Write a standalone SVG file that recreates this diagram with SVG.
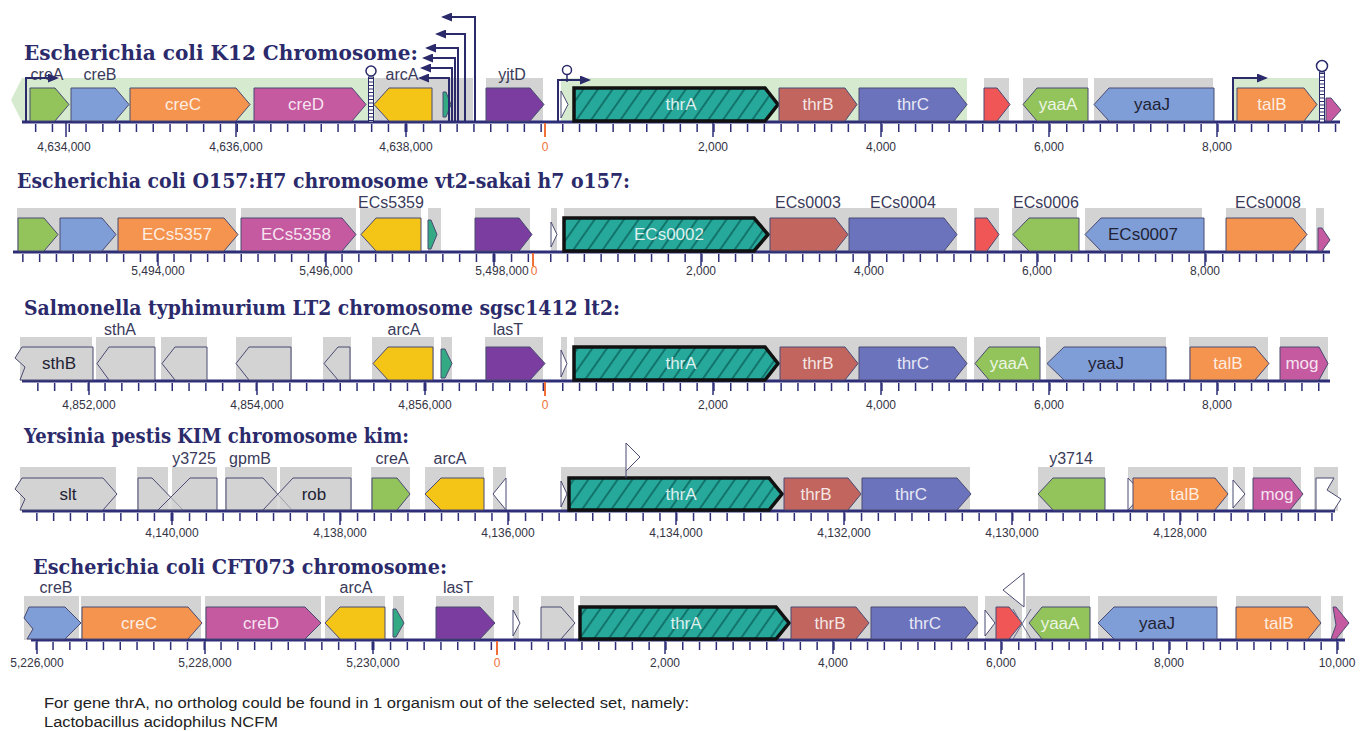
<svg xmlns="http://www.w3.org/2000/svg" width="1368" height="731" viewBox="0 0 1368 731">
<defs>
<style>
.bg{fill:#d3d3d3}
.pg{fill:#d5eacf}
.g{stroke:#4a4a72;stroke-width:1}
.gr{fill:#d3d3d3}
.wt{fill:#ffffff}
.gn{fill:#93c45c}
.bl{fill:#7f9ed8}
.or{fill:#f5944f}
.mg{fill:#c65aa1}
.yl{fill:#f4c516}
.tl{fill:#33a984}
.pu{fill:#7b3d9f}
.tb{fill:#c1655e}
.tc{fill:#6c73bd}
.rd{fill:#f05656}
.ta{fill:url(#hatch);stroke:#111;stroke-width:3.5}
.ax{stroke:#2e2e78;stroke-width:3}
.tk{stroke:#2e2e78;stroke-width:8;stroke-dasharray:1.5 15.3}
.mj{stroke:#2e2e78;stroke-width:1.5}
.z{stroke:#f07038;stroke-width:2}
.ttl{font-family:"DejaVu Serif","Liberation Serif",serif;font-weight:bold;font-size:20px;fill:#2b2a6b}
.lb{font-family:"Liberation Sans",Arial,sans-serif;font-size:16px;fill:#3a3a5a;text-anchor:middle}
.in{font-family:"Liberation Sans",Arial,sans-serif;font-size:17px;fill:#ffffff;fill-opacity:0.85;text-anchor:middle}
.dk{fill:#222233;fill-opacity:1}
.num{font-family:"Liberation Sans",Arial,sans-serif;font-size:12px;fill:#333344;text-anchor:middle}
.zn{fill:#f07038}
.pr{fill:none;stroke:#2b2a6b;stroke-width:2}
.ft{font-family:"Liberation Sans",Arial,sans-serif;font-size:14px;fill:#222}
</style>
<pattern id="hatch" width="12" height="12" patternUnits="userSpaceOnUse" patternTransform="rotate(35)">
<rect width="12" height="12" fill="#26a89b"/>
<line x1="1" y1="0" x2="1" y2="12" stroke="#0f6e66" stroke-width="1.8"/>
</pattern>
<marker id="ah" markerWidth="11" markerHeight="9" refX="9" refY="4.5" orient="auto" markerUnits="userSpaceOnUse">
<path d="M0,0 L11,4.5 L0,9 z" fill="#2b2a6b"/>
</marker>
</defs>
<rect width="1368" height="731" fill="#ffffff"/>

<!-- ============ TRACK 1 : E. coli K12 ============ -->
<g id="track1">
<text class="ttl" x="24" y="60" textLength="394" lengthAdjust="spacingAndGlyphs">Escherichia coli K12 Chromosome:</text>
<g id="t1-bg">
<polygon class="pg" points="11,100 22,78 375,78 375,122 22,122"/>
<rect class="bg" x="375" y="78" width="98" height="44"/>
<rect class="bg" x="486" y="78" width="57" height="44"/>
<rect class="pg" x="561" y="78" width="406" height="44"/>
<rect class="bg" x="984" y="78" width="25" height="44"/>
<rect class="bg" x="1023" y="78" width="65" height="44"/>
<rect class="bg" x="1094" y="78" width="119" height="44"/>
<rect class="pg" x="1233" y="78" width="92" height="44"/>
</g>
<g id="t1-axis">
<line class="ax" x1="22" y1="122" x2="1340" y2="122"/>
<line class="tk" x1="406" y1="128" x2="22" y2="128"/>
<line class="tk" x1="406" y1="128" x2="544" y2="128"/>
<line class="tk" x1="562" y1="128" x2="1340" y2="128"/>
<path class="mj" d="M66,122V137M236,122V137M406,122V137M713,122V137M881,122V137M1049,122V137M1217,122V137"/>
<line class="z" x1="545" y1="123" x2="545" y2="137"/>
<text class="num" x="64" y="151">4,634,000</text>
<text class="num" x="236" y="151">4,636,000</text>
<text class="num" x="406" y="151">4,638,000</text>
<text class="num zn" x="545" y="151">0</text>
<text class="num" x="713" y="151">2,000</text>
<text class="num" x="881" y="151">4,000</text>
<text class="num" x="1049" y="151">6,000</text>
<text class="num" x="1217" y="151">8,000</text>
</g>
<g id="t1-creA"><polygon class="g gn" points="30,88 55,88 69,104.5 55,121 30,121"/><text class="lb" x="47" y="80">creA</text></g>
<g id="t1-creB"><polygon class="g bl" points="71,88 115,88 129,104.5 115,121 71,121"/><text class="lb" x="100" y="80">creB</text></g>
<g id="t1-creC"><polygon class="g or" points="130,88 236,88 250,104.5 236,121 130,121"/><text class="in" x="183" y="110">creC</text></g>
<g id="t1-creD"><polygon class="g mg" points="254,88 352,88 366,104.5 352,121 254,121"/><text class="in" x="306" y="110">creD</text></g>
<g id="t1-arcA"><polygon class="g yl" points="374,104.5 389,88 432,88 432,121 389,121"/><text class="lb" x="402" y="80">arcA</text></g>
<g id="t1-small1"><polygon class="g tl" points="443,92 446,92 451,104.5 446,117 443,117"/></g>
<g id="t1-yjtD"><polygon class="g pu" points="486,88 530,88 544,104.5 530,121 486,121"/><text class="lb" x="512" y="80">yjtD</text></g>
<g id="t1-small2"><polygon class="g wt" points="561,91 568,104.5 561,118"/></g>
<g id="t1-thrA"><polygon class="ta" points="574,88 765,88 778,104.5 765,121 574,121"/><text class="in" x="681" y="110">thrA</text></g>
<g id="t1-thrB"><polygon class="g tb" points="779,88 845,88 857,104.5 845,121 779,121"/><text class="in" x="818" y="110">thrB</text></g>
<g id="t1-thrC"><polygon class="g tc" points="859,88 954,88 967,104.5 954,121 859,121"/><text class="in" x="913" y="110">thrC</text></g>
<g id="t1-red"><polygon class="g rd" points="984,88 997,88 1010,104.5 997,121 984,121"/></g>
<g id="t1-yaaA"><polygon class="g gn" points="1023,104.5 1037,88 1088,88 1088,121 1037,121"/><text class="in" x="1058" y="110">yaaA</text></g>
<g id="t1-yaaJ"><polygon class="g bl" points="1094,104.5 1109,88 1214,88 1214,121 1109,121"/><text class="in dk" x="1152" y="110">yaaJ</text></g>
<g id="t1-talB"><polygon class="g or" points="1237,88 1304,88 1317,104.5 1304,121 1237,121"/><text class="in" x="1272" y="110">talB</text></g>
<g id="t1-end"><polygon class="g mg" points="1326,98 1331,98 1341,110 1331,121 1326,121"/></g>
</g>

<!-- ============ TRACK 2 : E. coli O157:H7 ============ -->
<g id="track2">
<text class="ttl" x="17" y="188" textLength="613" lengthAdjust="spacingAndGlyphs">Escherichia coli O157:H7 chromosome vt2-sakai h7 o157:</text>
<g id="t2-bg">
<rect class="bg" x="17" y="208" width="219" height="44"/>
<rect class="bg" x="241" y="208" width="115" height="44"/>
<rect class="bg" x="360" y="208" width="61" height="44"/>
<rect class="bg" x="428" y="208" width="13" height="44"/>
<rect class="bg" x="475" y="208" width="55" height="44"/>
<rect class="bg" x="551" y="208" width="6" height="44"/>
<rect class="bg" x="564" y="208" width="393" height="44"/>
<rect class="bg" x="974" y="208" width="25" height="44"/>
<rect class="bg" x="1012" y="208" width="65" height="44"/>
<rect class="bg" x="1085" y="208" width="117" height="44"/>
<rect class="bg" x="1226" y="208" width="80" height="44"/>
<rect class="bg" x="1316" y="208" width="8" height="44"/>
</g>
<g id="t2-axis">
<line class="ax" x1="13" y1="252" x2="1330" y2="252"/>
<line class="tk" x1="494" y1="258" x2="13" y2="258"/>
<line class="tk" x1="494" y1="258" x2="532" y2="258"/>
<line class="tk" x1="550" y1="258" x2="1330" y2="258"/>
<path class="mj" d="M158,252V266M326,252V266M494,252V266M701,252V266M869,252V266M1037,252V266M1205,252V266"/>
<line class="z" x1="533" y1="253" x2="533" y2="266"/>
<text class="num" x="158" y="275">5,494,000</text>
<text class="num" x="326" y="275">5,496,000</text>
<text class="num" x="502" y="275">5,498,000</text>
<text class="num zn" x="534" y="275">0</text>
<text class="num" x="701" y="275">2,000</text>
<text class="num" x="869" y="275">4,000</text>
<text class="num" x="1037" y="275">6,000</text>
<text class="num" x="1205" y="275">8,000</text>
</g>
<g id="t2-g1"><polygon class="g gn" points="18,218 44,218 58,234.5 44,251 18,251"/></g>
<g id="t2-g2"><polygon class="g bl" points="60,218 102,218 116,234.5 102,251 60,251"/></g>
<g id="t2-ECs5357"><polygon class="g or" points="118,218 224,218 238,234.5 224,251 118,251"/><text class="in" x="177" y="240">ECs5357</text></g>
<g id="t2-ECs5358"><polygon class="g mg" points="241,218 342,218 356,234.5 342,251 241,251"/><text class="in" x="296" y="240">ECs5358</text></g>
<g id="t2-ECs5359"><polygon class="g yl" points="361,234.5 376,218 421,218 421,251 376,251"/><text class="lb" x="391" y="208">ECs5359</text></g>
<g id="t2-small1"><polygon class="g tl" points="428,220 431,220 437,234.5 431,249 428,249"/></g>
<g id="t2-g3"><polygon class="g pu" points="475,218 519,218 532,234.5 519,251 475,251"/></g>
<g id="t2-small2"><polygon class="g wt" points="551,222 557,234.5 551,247"/></g>
<g id="t2-ECs0002"><polygon class="ta" points="564,218 754,218 768,234.5 754,251 564,251"/><text class="in" x="669" y="240">ECs0002</text></g>
<g id="t2-ECs0003"><polygon class="g tb" points="770,218 835,218 848,234.5 835,251 770,251"/><text class="lb" x="808" y="208">ECs0003</text></g>
<g id="t2-ECs0004"><polygon class="g tc" points="849,218 944,218 957,234.5 944,251 849,251"/><text class="lb" x="903" y="208">ECs0004</text></g>
<g id="t2-red"><polygon class="g rd" points="975,218 987,218 999,234.5 987,251 975,251"/></g>
<g id="t2-ECs0006"><polygon class="g gn" points="1013,234.5 1029,218 1079,218 1079,251 1029,251"/><text class="lb" x="1046" y="208">ECs0006</text></g>
<g id="t2-ECs0007"><polygon class="g bl" points="1085,234.5 1101,218 1204,218 1204,251 1101,251"/><text class="in dk" x="1143" y="240">ECs0007</text></g>
<g id="t2-ECs0008"><polygon class="g or" points="1226,218 1293,218 1307,234.5 1293,251 1226,251"/><text class="lb" x="1268" y="208">ECs0008</text></g>
<g id="t2-end"><polygon class="g mg" points="1318,228 1322,228 1330,240 1322,251 1318,251"/></g>
</g>

<!-- ============ TRACK 3 : Salmonella ============ -->
<g id="track3">
<text class="ttl" x="24" y="315" textLength="596" lengthAdjust="spacingAndGlyphs">Salmonella typhimurium LT2 chromosome sgsc1412 lt2:</text>
<g id="t3-bg">
<rect class="bg" x="20" y="337" width="72" height="44"/>
<rect class="bg" x="96" y="337" width="59" height="44"/>
<rect class="bg" x="161" y="337" width="46" height="44"/>
<rect class="bg" x="236" y="337" width="56" height="44"/>
<rect class="bg" x="323" y="337" width="28" height="44"/>
<rect class="bg" x="372" y="337" width="62" height="44"/>
<rect class="bg" x="441" y="337" width="11" height="44"/>
<rect class="bg" x="485" y="337" width="58" height="44"/>
<rect class="bg" x="561" y="337" width="6" height="44"/>
<rect class="bg" x="574" y="337" width="393" height="44"/>
<rect class="bg" x="974" y="337" width="66" height="44"/>
<rect class="bg" x="1046" y="337" width="120" height="44"/>
<rect class="bg" x="1189" y="337" width="79" height="44"/>
<rect class="bg" x="1280" y="337" width="48" height="44"/>
</g>
<g id="t3-axis">
<line class="ax" x1="22" y1="381" x2="1330" y2="381"/>
<line class="tk" x1="425" y1="387" x2="22" y2="387"/>
<line class="tk" x1="425" y1="387" x2="544" y2="387"/>
<line class="tk" x1="562" y1="387" x2="1330" y2="387"/>
<path class="mj" d="M89,381V395M257,381V395M425,381V395M713,381V395M881,381V395M1049,381V395M1217,381V395"/>
<line class="z" x1="545" y1="382" x2="545" y2="396"/>
<text class="num" x="89" y="409">4,852,000</text>
<text class="num" x="257" y="409">4,854,000</text>
<text class="num" x="425" y="409">4,856,000</text>
<text class="num zn" x="545" y="409">0</text>
<text class="num" x="713" y="409">2,000</text>
<text class="num" x="881" y="409">4,000</text>
<text class="num" x="1049" y="409">6,000</text>
<text class="num" x="1217" y="409">8,000</text>
</g>
<g id="t3-sthB"><polygon class="g gr" points="93,347 22,347 15,358 25,367 20,380 93,380"/><text class="in dk" x="59" y="369">sthB</text></g>
<g id="t3-sthA"><polygon class="g gr" points="97,363.5 109,347 155,347 155,380 109,380"/><text class="lb" x="120" y="335">sthA</text></g>
<g id="t3-g3"><polygon class="g gr" points="162,363.5 175,347 207,347 207,380 175,380"/></g>
<g id="t3-g4"><polygon class="g gr" points="236,363.5 249,347 291,347 291,380 249,380"/></g>
<g id="t3-g5"><polygon class="g gr" points="324,363.5 338,347 350,347 350,380 338,380"/></g>
<g id="t3-arcA"><polygon class="g yl" points="373,363.5 388,347 433,347 433,380 388,380"/><text class="lb" x="404" y="335">arcA</text></g>
<g id="t3-small1"><polygon class="g tl" points="441,349 445,349 452,363.5 445,378 441,378"/></g>
<g id="t3-lasT"><polygon class="g pu" points="486,347 530,347 545,363.5 530,380 486,380"/><text class="lb" x="508" y="335">lasT</text></g>
<g id="t3-small2"><polygon class="g wt" points="561,350 567,363.5 561,377"/></g>
<g id="t3-thrA"><polygon class="ta" points="574,347 765,347 778,363.5 765,380 574,380"/><text class="in" x="681" y="369">thrA</text></g>
<g id="t3-thrB"><polygon class="g tb" points="780,347 845,347 858,363.5 845,380 780,380"/><text class="in" x="818" y="369">thrB</text></g>
<g id="t3-thrC"><polygon class="g tc" points="859,347 954,347 967,363.5 954,380 859,380"/><text class="in" x="913" y="369">thrC</text></g>
<g id="t3-yaaA"><polygon class="g gn" points="975,363.5 989,347 1040,347 1040,380 989,380"/><text class="in" x="1009" y="369">yaaA</text></g>
<g id="t3-yaaJ"><polygon class="g bl" points="1047,363.5 1064,347 1166,347 1166,380 1064,380"/><text class="in dk" x="1106" y="369">yaaJ</text></g>
<g id="t3-talB"><polygon class="g or" points="1190,347 1255,347 1269,363.5 1255,380 1190,380"/><text class="in" x="1228" y="369">talB</text></g>
<g id="t3-mog"><polygon class="g mg" points="1280,347 1319,347 1328,363.5 1319,380 1280,380"/><text class="in" x="1302" y="369">mog</text></g>
</g>

<!-- ============ TRACK 4 : Yersinia pestis ============ -->
<g id="track4">
<text class="ttl" x="24" y="443" textLength="385" lengthAdjust="spacingAndGlyphs">Yersinia pestis KIM chromosome kim:</text>
<g id="t4-bg">
<rect class="bg" x="20" y="467" width="96" height="44"/>
<rect class="bg" x="137" y="467" width="31" height="44"/>
<rect class="bg" x="172" y="467" width="45" height="44"/>
<rect class="bg" x="225" y="467" width="52" height="44"/>
<rect class="bg" x="280" y="467" width="72" height="44"/>
<rect class="bg" x="371" y="467" width="39" height="44"/>
<rect class="bg" x="425" y="467" width="59" height="44"/>
<rect class="bg" x="493" y="467" width="13" height="44"/>
<rect class="bg" x="561" y="467" width="409" height="44"/>
<rect class="bg" x="1038" y="467" width="67" height="44"/>
<rect class="bg" x="1128" y="467" width="100" height="44"/>
<rect class="bg" x="1233" y="467" width="12" height="44"/>
<rect class="bg" x="1253" y="467" width="48" height="44"/>
<rect class="bg" x="1314" y="467" width="24" height="44"/>
</g>
<g id="t4-axis">
<line class="ax" x1="22" y1="511" x2="1335" y2="511"/>
<line class="tk" x1="172" y1="517" x2="22" y2="517"/>
<line class="tk" x1="172" y1="517" x2="1335" y2="517"/>
<path class="mj" d="M172,511V525M340,511V525M508,511V525M676,511V525M844,511V525M1012,511V525M1180,511V525"/>
<text class="num" x="172" y="537">4,140,000</text>
<text class="num" x="340" y="537">4,138,000</text>
<text class="num" x="508" y="537">4,136,000</text>
<text class="num" x="676" y="537">4,134,000</text>
<text class="num" x="844" y="537">4,132,000</text>
<text class="num" x="1012" y="537">4,130,000</text>
<text class="num" x="1180" y="537">4,128,000</text>
</g>
<g id="t4-slt"><polygon class="g gr" points="22,478 103,478 117,494 103,510 20,510 25,499 15,489"/><text class="in dk" x="68" y="500">slt</text></g>
<g id="t4-y3725a"><polygon class="g gr" points="138,510 138,478 152,478 183,510" fill-opacity="0.6"/></g>
<g id="t4-y3725"><polygon class="g gr" points="158,510 190,478 217,478 217,510" fill-opacity="0.6"/><text class="lb" x="194" y="464">y3725</text></g>
<g id="t4-gpmB"><polygon class="g gr" points="226,510 226,478 263,478 292,510" fill-opacity="0.6"/><text class="lb" x="250" y="464">gpmB</text></g>
<g id="t4-rob"><polygon class="g gr" points="263,510 293,478 351,478 351,510" fill-opacity="0.6"/><text class="in dk" x="314" y="500">rob</text></g>
<g id="t4-creA"><polygon class="g gn" points="372,478 397,478 410,494 397,510 372,510"/><text class="lb" x="392" y="464">creA</text></g>
<g id="t4-arcA"><polygon class="g yl" points="425,494 441,478 484,478 484,510 441,510"/><text class="lb" x="450" y="464">arcA</text></g>
<g id="t4-small1"><polygon class="g wt" points="506,478 493,494 506,510"/></g>
<g id="t4-small2"><polygon class="g wt" points="561,481 567,494 561,507"/></g>
<g id="t4-thrA"><polygon class="ta" points="569,478 769,478 782,494 769,510 569,510"/><text class="in" x="681" y="500">thrA</text></g>
<g id="t4-over"><polygon class="g wt" points="626,443 640,457 626,471"/><line class="g" x1="626" y1="471" x2="626" y2="478"/></g>
<g id="t4-thrB"><polygon class="g tb" points="784,478 848,478 861,494 848,510 784,510"/><text class="in" x="816" y="500">thrB</text></g>
<g id="t4-thrC"><polygon class="g tc" points="862,478 957,478 971,494 957,510 862,510"/><text class="in" x="911" y="500">thrC</text></g>
<g id="t4-y3714"><polygon class="g gn" points="1038,494 1053,478 1105,478 1105,510 1053,510"/><text class="lb" x="1071" y="464">y3714</text></g>
<g id="t4-small3"><polygon class="g wt" points="1128,478 1143,494 1128,510"/></g>
<g id="t4-talB"><polygon class="g or" points="1133,478 1215,478 1228,494 1215,510 1133,510"/><text class="in" x="1185" y="500">talB</text></g>
<g id="t4-small4"><polygon class="g wt" points="1233,480 1245,494 1233,508"/></g>
<g id="t4-mog"><polygon class="g mg" points="1253,478 1290,478 1303,494 1290,510 1253,510"/><text class="in" x="1277" y="500">mog</text></g>
<g id="t4-end"><polygon class="g wt" points="1316,478 1334,478 1327,490 1341,499 1334,510 1316,510"/></g>
</g>

<!-- ============ TRACK 5 : E. coli CFT073 ============ -->
<g id="track5">
<text class="ttl" x="33" y="574" textLength="414" lengthAdjust="spacingAndGlyphs">Escherichia coli CFT073 chromosome:</text>
<g id="t5-bg">
<rect class="bg" x="24" y="596" width="55" height="44"/>
<rect class="bg" x="81" y="596" width="120" height="44"/>
<rect class="bg" x="205" y="596" width="116" height="44"/>
<rect class="bg" x="325" y="596" width="60" height="44"/>
<rect class="bg" x="393" y="596" width="11" height="44"/>
<rect class="bg" x="436" y="596" width="58" height="44"/>
<rect class="bg" x="513" y="596" width="6" height="44"/>
<rect class="bg" x="541" y="596" width="33" height="44"/>
<rect class="bg" x="580" y="596" width="398" height="44"/>
<rect class="bg" x="985" y="596" width="37" height="44"/>
<rect class="bg" x="1026" y="596" width="64" height="44"/>
<rect class="bg" x="1098" y="596" width="119" height="44"/>
<rect class="bg" x="1236" y="596" width="85" height="44"/>
<rect class="bg" x="1331" y="596" width="12" height="44"/>
</g>
<g id="t5-axis">
<line class="ax" x1="31" y1="640" x2="1345" y2="640"/>
<line class="tk" x1="373" y1="646" x2="31" y2="646"/>
<line class="tk" x1="373" y1="646" x2="496" y2="646"/>
<line class="tk" x1="514" y1="646" x2="1345" y2="646"/>
<path class="mj" d="M37,640V654M205,640V654M373,640V654M665,640V654M833,640V654M1001,640V654M1169,640V654M1337,640V654"/>
<line class="z" x1="497" y1="641" x2="497" y2="655"/>
<text class="num" x="37" y="667">5,226,000</text>
<text class="num" x="205" y="667">5,228,000</text>
<text class="num" x="373" y="667">5,230,000</text>
<text class="num zn" x="497" y="667">0</text>
<text class="num" x="665" y="667">2,000</text>
<text class="num" x="833" y="667">4,000</text>
<text class="num" x="1001" y="667">6,000</text>
<text class="num" x="1169" y="667">8,000</text>
<text class="num" x="1337" y="667">10,000</text>
</g>
<g id="t5-creB"><polygon class="g bl" points="29,607 65,607 81,623 65,639 27,639 33,629 24,618"/><text class="lb" x="56" y="593">creB</text></g>
<g id="t5-creC"><polygon class="g or" points="82,607 188,607 202,623 188,639 82,639"/><text class="in" x="139" y="629">creC</text></g>
<g id="t5-creD"><polygon class="g mg" points="206,607 305,607 321,623 305,639 206,639"/><text class="in" x="261" y="629">creD</text></g>
<g id="t5-arcA"><polygon class="g yl" points="325,623 340,607 385,607 385,639 340,639"/><text class="lb" x="356" y="593">arcA</text></g>
<g id="t5-small1"><polygon class="g tl" points="393,609 396,609 404,623 396,637 393,637"/></g>
<g id="t5-lasT"><polygon class="g pu" points="436,607 480,607 495,623 480,639 436,639"/><text class="lb" x="458" y="593">lasT</text></g>
<g id="t5-small2"><polygon class="g wt" points="513,610 520,623 513,636"/></g>
<g id="t5-small3"><polygon class="g gr" points="541,607 561,607 575,623 561,639 541,639"/></g>
<g id="t5-thrA"><polygon class="ta" points="580,607 776,607 789,623 776,639 580,639"/><text class="in" x="686" y="629">thrA</text></g>
<g id="t5-thrB"><polygon class="g tb" points="791,607 856,607 869,623 856,639 791,639"/><text class="in" x="830" y="629">thrB</text></g>
<g id="t5-thrC"><polygon class="g tc" points="871,607 965,607 978,623 965,639 871,639"/><text class="in" x="925" y="629">thrC</text></g>
<g id="t5-small4"><polygon class="g wt" points="985,610 995,623 985,636"/></g>
<g id="t5-red"><polygon class="g rd" points="996,607 1009,607 1022,623 1009,639 996,639"/><path d="M1013,639 L1031,609 M1013,609 L1031,639" stroke="#6a6a8a" stroke-width="1" fill="none"/></g>
<g id="t5-over"><polygon class="g wt" points="1024,573 1003,590 1024,607"/></g>
<g id="t5-yaaA"><polygon class="g gn" points="1029,623 1042,607 1090,607 1090,639 1042,639"/><text class="in" x="1060" y="629">yaaA</text></g>
<g id="t5-yaaJ"><polygon class="g bl" points="1098,623 1114,607 1217,607 1217,639 1114,639"/><text class="in dk" x="1157" y="629">yaaJ</text></g>
<g id="t5-talB"><polygon class="g or" points="1236,607 1308,607 1321,623 1308,639 1236,639"/><text class="in" x="1279" y="629">talB</text></g>
<g id="t5-end"><polygon class="g mg" points="1333,607 1336,607 1349,623 1336,639 1331,639 1336,625"/></g>
</g>

<!-- ============ connectors: promoters and terminators ============ -->
<g id="connectors">
<path class="pr" d="M475,121V17H443" marker-end="url(#ah)"/>
<path class="pr" d="M465,121V34H437" marker-end="url(#ah)"/>
<path class="pr" d="M458,121V48H427" marker-end="url(#ah)"/>
<path class="pr" d="M455,121V58H424" marker-end="url(#ah)"/>
<path class="pr" d="M452,121V68H422" marker-end="url(#ah)"/>
<path class="pr" d="M449,121V78H420" marker-end="url(#ah)"/>
<path class="pr" d="M26,121V78H57" marker-end="url(#ah)"/>
<path class="pr" d="M558,121V80H589" marker-end="url(#ah)"/>
<path class="pr" d="M1233,121V78H1266" marker-end="url(#ah)"/>
<g id="term1">
<rect x="368.5" y="77" width="5" height="45" fill="#fff" stroke="#2b2a6b" stroke-width="1"/>
<line x1="371" y1="78" x2="371" y2="121" stroke="#2b2a6b" stroke-width="4" stroke-dasharray="1 2.5"/>
<circle cx="371" cy="71" r="5" fill="#fff" stroke="#2b2a6b" stroke-width="1.5"/>
</g>
<g id="term2">
<line x1="567" y1="74" x2="567" y2="82" stroke="#2b2a6b" stroke-width="1.5"/>
<circle cx="567" cy="70" r="4.5" fill="#fff" stroke="#2b2a6b" stroke-width="1.5"/>
</g>
<g id="term3">
<rect x="1319.5" y="72" width="5" height="50" fill="#fff" stroke="#2b2a6b" stroke-width="1"/>
<line x1="1322" y1="73" x2="1322" y2="121" stroke="#2b2a6b" stroke-width="4" stroke-dasharray="1 2.5"/>
<circle cx="1322" cy="66" r="5.5" fill="#fff" stroke="#2b2a6b" stroke-width="1.5"/>
</g>
</g>

<g id="footnote">
<text class="ft" x="44" y="708" textLength="645" lengthAdjust="spacingAndGlyphs">For gene thrA, no ortholog could be found in 1 organism out of the selected set, namely:</text>
<text class="ft" x="44" y="727" textLength="234" lengthAdjust="spacingAndGlyphs">Lactobacillus acidophilus NCFM</text>
</g>
</svg>
